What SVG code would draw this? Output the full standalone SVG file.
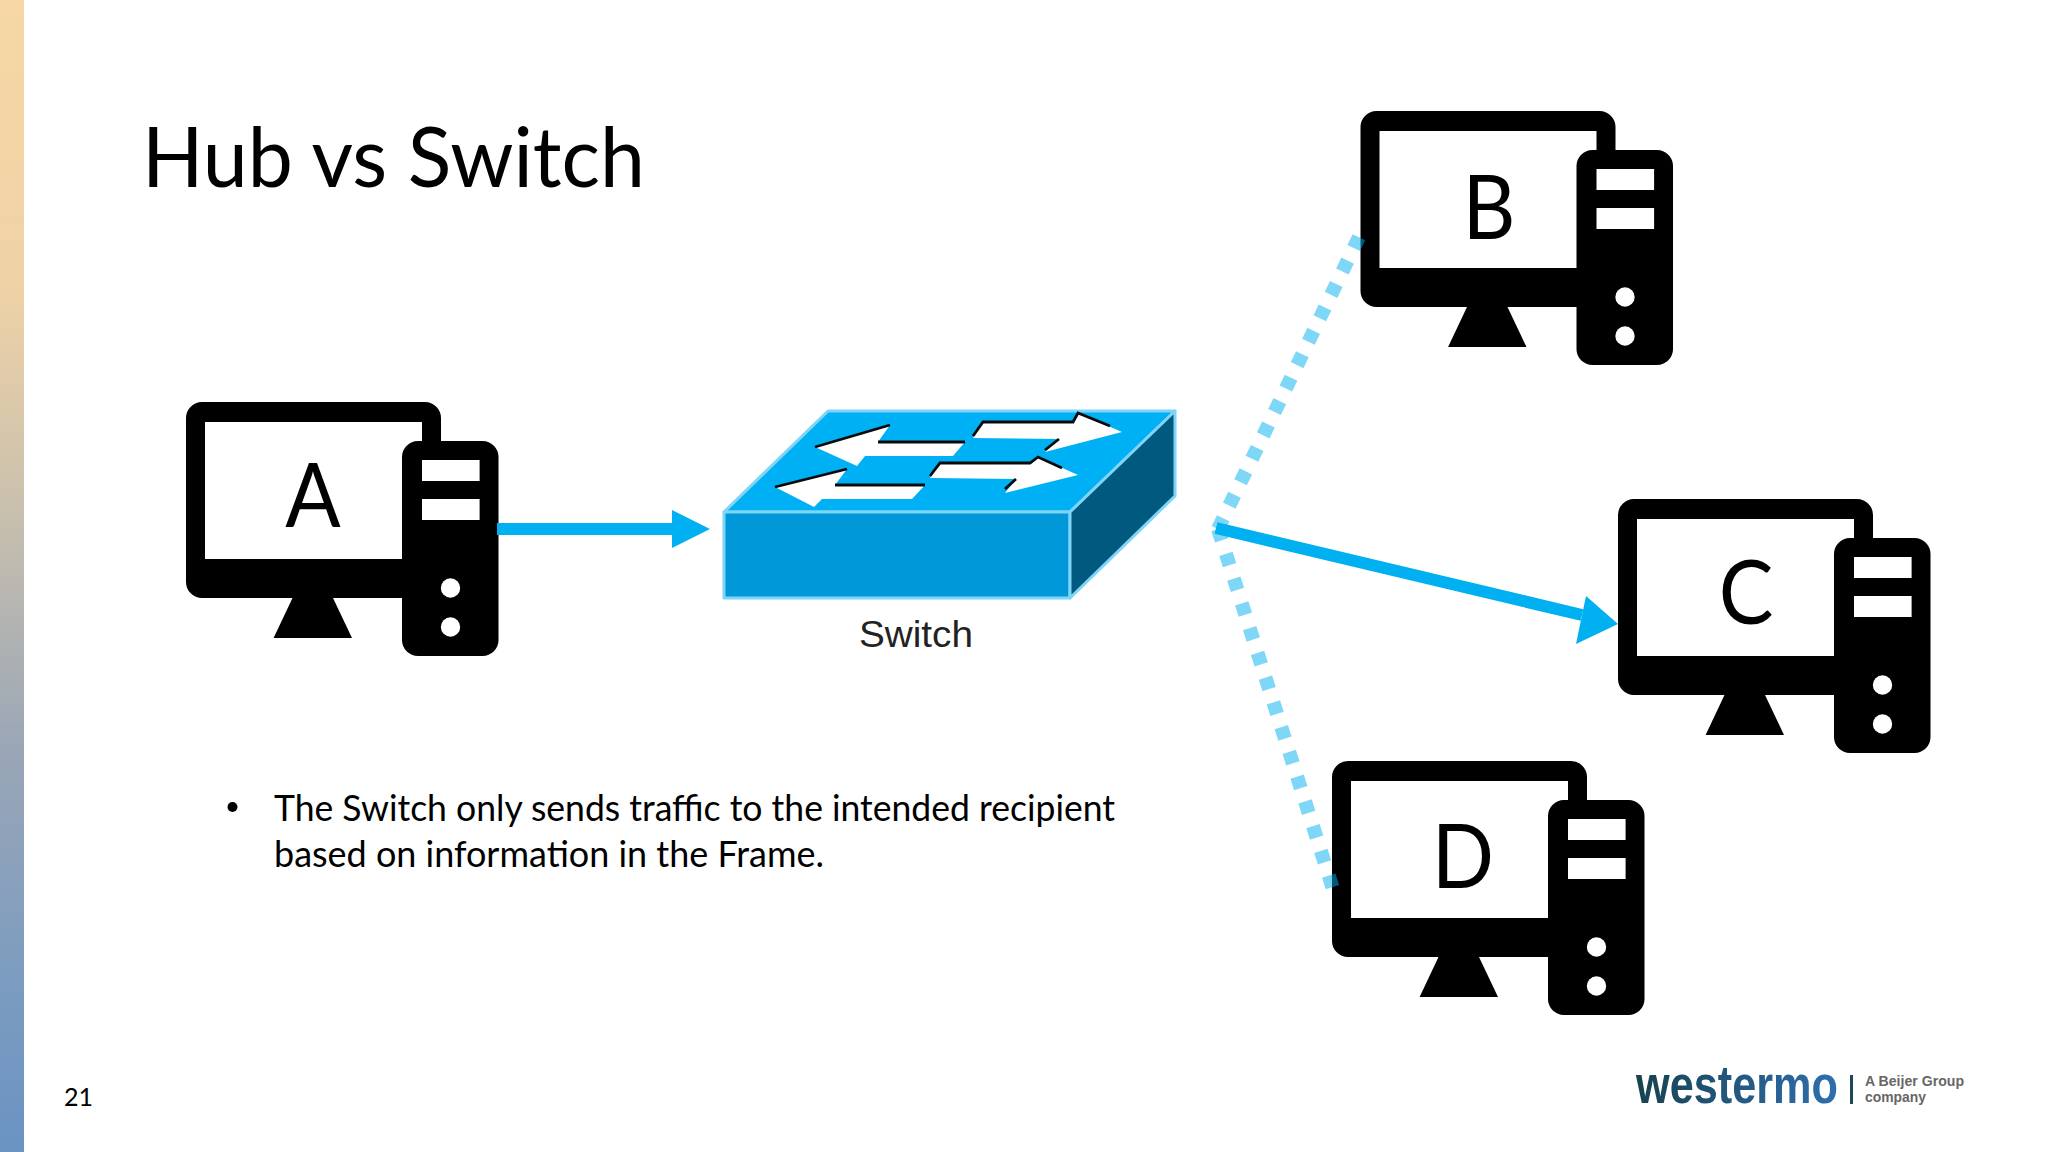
<svg xmlns="http://www.w3.org/2000/svg" width="2048" height="1152" viewBox="0 0 2048 1152">
<style>
text{font-family:"Lato","Liberation Sans",sans-serif;fill:#000}
.letter{font-size:90px;text-anchor:middle}
.body{font-size:36px}
.conn{fill:none;stroke:#00b0f0;stroke-width:12}
.dot{fill:none;stroke:#00b0f0;stroke-opacity:.5;stroke-width:14;stroke-dasharray:12 14}
.edge{fill:none;stroke:#0a0a0a;stroke-width:2.800}
</style>
<defs>
<linearGradient id="bar" x1="0" y1="0" x2="0" y2="1">
<stop offset="0" stop-color="#f6d7a5"/><stop offset=".25" stop-color="#efd2a6"/><stop offset=".45" stop-color="#c7bfae"/><stop offset=".65" stop-color="#9aa6b6"/><stop offset=".85" stop-color="#7c9cc0"/><stop offset="1" stop-color="#6a93c2"/>
</linearGradient>
<linearGradient id="logo" x1="0" y1="0" x2="1" y2="0">
<stop offset="0" stop-color="#17424f"/><stop offset="1" stop-color="#2f6fb0"/>
</linearGradient>
<g id="computer">
<path fill-rule="evenodd" d="M16 0H239a16 16 0 0 1 16 16V196H16a16 16 0 0 1-16-16V16a16 16 0 0 1 16-16zM19 20V157H236V20z"/>
<path d="M106.500 196H147L166 236H87.600z"/>
<rect x="216" y="39" width="96.500" height="215" rx="16"/>
<rect x="236" y="58" width="57.600" height="21" fill="#fff"/>
<rect x="236" y="97" width="57.600" height="21" fill="#fff"/>
<circle cx="264.500" cy="186" r="9.700" fill="#fff"/>
<circle cx="264.500" cy="225" r="9.700" fill="#fff"/>
</g>
</defs>
<rect width="2048" height="1152" fill="#fff"/>
<rect width="24" height="1152" fill="url(#bar)"/>
<text x="142" y="187" font-size="84" textLength="503" lengthAdjust="spacingAndGlyphs">Hub vs Switch</text>
<g id="node-a"><use href="#computer" x="186" y="402"/><text class="letter" transform="translate(313 527) scale(.91 1)">A</text></g>
<g id="node-b"><use href="#computer" x="1360.500" y="111"/><text class="letter" transform="translate(1489 239) scale(.91 1)">B</text></g>
<g id="node-c"><use href="#computer" x="1618" y="499"/><text class="letter" transform="translate(1746 624) scale(.91 1)">C</text></g>
<g id="node-d"><use href="#computer" x="1332" y="761"/><text class="letter" transform="translate(1463 888) scale(.91 1)">D</text></g>
<g id="connectors">
<path class="dot" d="M1218 529L1360 235"/>
<path class="dot" d="M1218 529L1333 889"/>
<path class="conn" d="M497 529H680"/>
<path d="M672 510L710 529L672 548z" fill="#00b0f0"/>
<path class="conn" d="M1216 528L1582 615"/>
<path d="M1618 624L1576 644L1586 596z" fill="#00b0f0"/>
</g>
<g id="switch">
<g stroke="#7fd4f7" stroke-width="3" stroke-linejoin="round">
<path d="M724 512L828 411H1175L1070 512z" fill="#00b0f5"/>
<rect x="724" y="512" width="346" height="86" fill="#0098d8"/>
<path d="M1070 512L1175 411V496L1070 598z" fill="#005a80"/>
</g>
<g fill="#fff">
<path d="M815 447L890 425L878 442H965L953 456H865L857 466z"/>
<path d="M775 487L847 469L835 485H925L912 499H822L814 507z"/>
<path d="M983 422H1073L1078 413L1122 432L1045 452L1059 439L973 438z"/>
<path d="M940 463H1030L1038 457L1078 475L1005 493L1016 479L930 478z"/>
</g>
<path class="edge" d="M815 447L890 425M878 442H965"/>
<path class="edge" d="M775 487L847 469M835 485H925"/>
<path class="edge" d="M973 436L983 422H1073L1078 413L1110 426M1045 450L1059 439"/>
<path class="edge" d="M930 476L940 463H1030L1038 457L1062 468M1005 489L1016 479"/>
<text x="859" y="647" font-size="37" textLength="114" lengthAdjust="spacingAndGlyphs" style="font-family:'Liberation Sans',sans-serif;fill:#222">Switch</text>
</g>
<circle cx="232.500" cy="807" r="5"/>
<text class="body" x="274" y="820.500" textLength="841" lengthAdjust="spacingAndGlyphs">The Switch only sends traffic to the intended recipient</text>
<text class="body" x="274" y="867" textLength="550" lengthAdjust="spacingAndGlyphs">based on information in the Frame.</text>
<text x="64" y="1106" font-size="25">21</text>
<g id="logo-mark">
<text x="1636" y="1103" font-size="54" font-weight="700" textLength="202" lengthAdjust="spacingAndGlyphs" style="font-family:'Liberation Sans',sans-serif;fill:url(#logo)">westermo</text>
<rect x="1850" y="1075" width="3" height="29" fill="#1d4a5a"/>
<text x="1865" y="1086" font-size="14" font-weight="700" textLength="99" lengthAdjust="spacingAndGlyphs" style="font-family:'Liberation Sans',sans-serif;fill:#666">A Beijer Group</text>
<text x="1865" y="1102" font-size="14" font-weight="700" textLength="61" lengthAdjust="spacingAndGlyphs" style="font-family:'Liberation Sans',sans-serif;fill:#666">company</text>
</g>
</svg>
